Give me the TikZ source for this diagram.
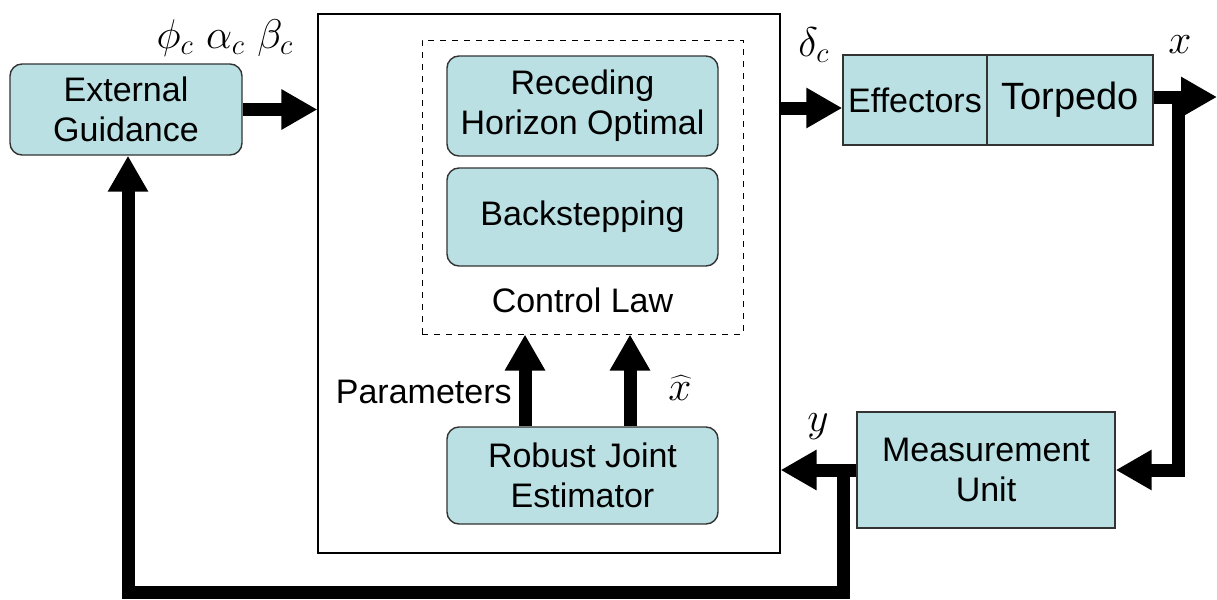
\documentclass[tikz,border=0pt]{standalone}
\usepackage{fontspec}
\setmainfont{Liberation Sans}
\usetikzlibrary{arrows.meta}
\definecolor{boxfill}{RGB}{186,224,227}
\begin{document}
\begin{tikzpicture}[x=0.5pt,y=-0.5pt,
  block/.style={draw=black!80, fill=boxfill, line width=0.7pt, align=center,
    font=\fontsize{17}{20}\selectfont, inner sep=0pt},
  rblock/.style={block, rounded corners=6pt},
  sig/.style={line width=6.5pt, -{Triangle[length=18pt,width=19pt]}},
  lbl/.style={font=\fontsize{17}{20}\selectfont},
  mlbl/.style={font=\fontsize{22}{24}\selectfont, inner sep=1pt}]
  \useasboundingbox (0,0) rectangle (1217,600);
  \node[draw, line width=0.6pt, minimum width=231pt, minimum height=269.5pt] (ctrl) at (549,283.5) {};
  \node[draw, dashed, line width=0.5pt, minimum width=160.5pt, minimum height=147pt] (law) at (582.5,187) {};
  \node[rblock, minimum width=116pt, minimum height=45.5pt] (guid) at (126,109.5) {External\\Guidance};
  \node[rblock, minimum width=135.5pt, minimum height=50pt] (rho) at (582.5,106) {Receding\\Horizon Optimal};
  \node[rblock, minimum width=135.5pt, minimum height=49pt] (back) at (582.5,217) {Backstepping};
  \node[lbl] (lawtxt) at (582.5,300) {Control Law};
  \node[rblock, minimum width=135.5pt, minimum height=48.5pt] (est) at (582.5,475.5) {Robust Joint\\Estimator};
  \node[block, minimum width=72pt, minimum height=45pt] (eff) at (915,100) {Effectors};
  \node[block, minimum width=83pt, minimum height=45pt, font=\fontsize{19}{22}\selectfont] (torp) at (1070,100) {Torpedo};
  \node[block, minimum width=129pt, minimum height=58pt] (meas) at (986,470) {Measurement\\Unit};
  % labels
  \node[mlbl] (angles) at (225,38) {$\phi_c\ \alpha_c\ \beta_c$};
  \node[mlbl] (dc) at (814,45) {$\delta_c$};
  \node[mlbl] (xo) at (1180,45) {$x$};
  \node[mlbl] (yo) at (818,427) {$y$};
  \node[mlbl] (xhat) at (680,388) {$\widehat{x}$};
  \node[lbl, anchor=east, inner sep=0pt] (par) at (512,392) {Parameters};
  % signals
  \coordinate (xend) at (1217,97);
  \coordinate (xsplit) at (1178,97);
  \coordinate (ysplit) at (843,470);
  \draw[sig] (guid.east) -- (guid.east -| ctrl.west);
  \draw[sig] (ctrl.east |- 0,108) -- (eff.west |- 0,108);
  \draw[sig] (torp.east |- xend) -- (xend);
  \draw[sig] (xsplit) |- (meas.east);
  \draw[sig] (meas.west) -- (meas.west -| ctrl.east);
  \draw[sig] (ysplit) |- (128,592) -- (guid.south -| 128,0);
  \draw[sig] (est.north -| 525,0) -- (law.south -| 525,0);
  \draw[sig] (est.north -| 630,0) -- (law.south -| 630,0);
\end{tikzpicture}
\end{document}
